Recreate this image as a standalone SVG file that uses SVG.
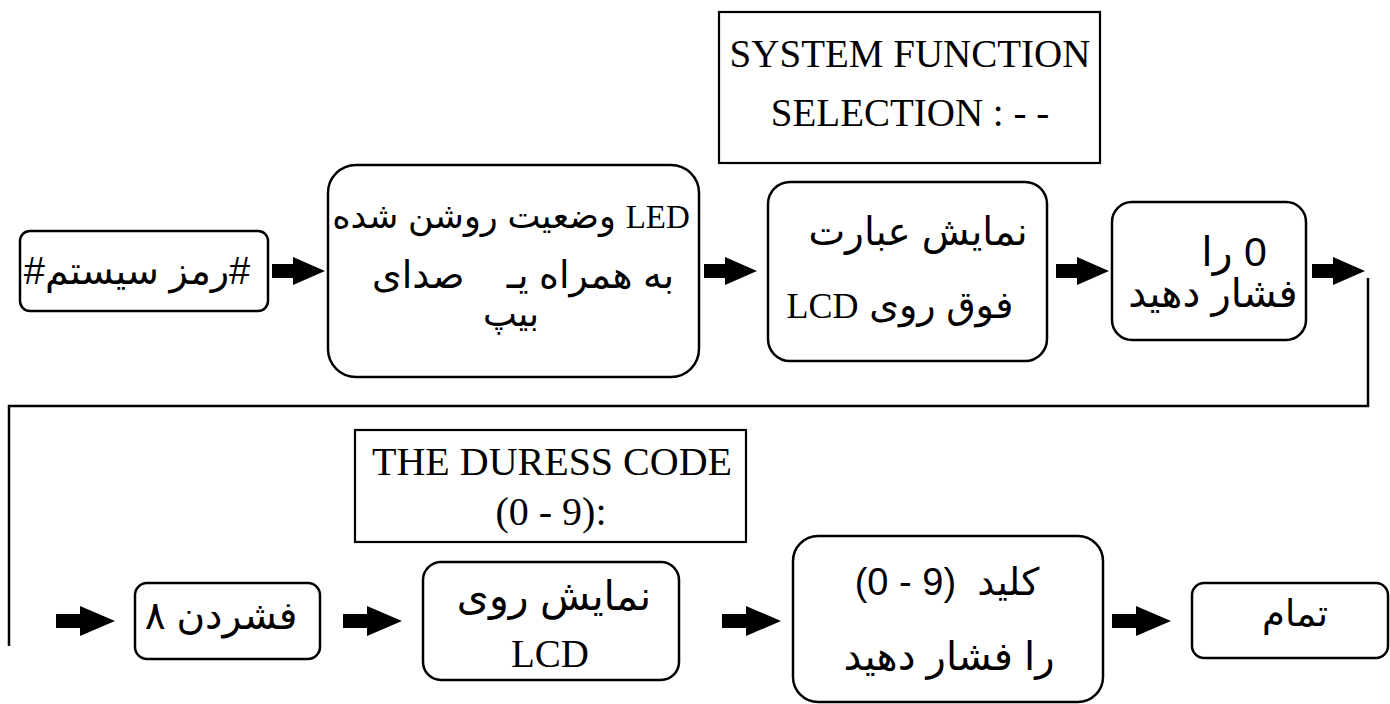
<svg xmlns="http://www.w3.org/2000/svg" width="1390" height="704" viewBox="0 0 1390 704">
<style>
.box{fill:#fff;stroke:#000;stroke-width:2.5}
.rect{fill:#fff;stroke:#000;stroke-width:2.2}
.ar{font-family:"Liberation Sans","DejaVu Sans",sans-serif;fill:#000}
.en{font-family:"Liberation Serif","DejaVu Serif",serif;fill:#000}
.line{fill:none;stroke:#000;stroke-width:2.5}
.arrow{fill:#000}
</style>
<defs>
<path id="a1" d="M0,-7 H21 V-14 L53,0 L21,14 V7 H0 Z"/>
<path id="a2" d="M0,-7 H24 V-15 L59,0 L24,15 V7 H0 Z"/>
</defs>
<rect width="1390" height="704" fill="#fff"/>

<g id="connectors">
<use href="#a1" class="arrow" x="272" y="271"/>
<use href="#a1" class="arrow" x="704" y="271"/>
<use href="#a1" class="arrow" x="1056" y="271"/>
<use href="#a1" class="arrow" x="1312" y="271"/>
<polyline class="line" points="1368,278 1368,406 9,406 9,646"/>
<use href="#a2" class="arrow" x="56" y="621"/>
<use href="#a2" class="arrow" x="343" y="621"/>
<use href="#a2" class="arrow" x="722" y="621"/>
<use href="#a2" class="arrow" x="1112" y="621"/>
</g>

<g id="node-password">
<rect class="box" x="20" y="231" width="248" height="80" rx="10"/>
<text class="ar" x="137" y="284" font-size="38" text-anchor="middle" direction="rtl">#رمز سیستم#</text>
</g>

<g id="node-led">
<rect class="box" x="328" y="165" width="371" height="212" rx="28"/>
<text class="ar" x="511" y="228" font-size="35" text-anchor="middle" direction="rtl"><tspan class="en" font-size="33">LED</tspan> وضعیت روشن شده</text>
<text class="ar" x="523" y="288" font-size="38" text-anchor="middle" direction="rtl" xml:space="preserve">به همراه یـ    صدای</text>
<text class="ar" x="511" y="326" font-size="36" text-anchor="middle" direction="rtl">بیپ</text>
</g>

<g id="lcd-system-function">
<rect class="rect" x="719" y="12" width="381" height="151"/>
<text class="en" x="910" y="67" font-size="39" text-anchor="middle">SYSTEM FUNCTION</text>
<text class="en" x="910" y="126" font-size="39" text-anchor="middle">SELECTION : - -</text>
</g>

<g id="node-show-phrase">
<rect class="box" x="768" y="182" width="279" height="179" rx="22"/>
<text class="ar" x="918" y="245" font-size="39" text-anchor="middle" direction="rtl">نمایش عبارت</text>
<text class="ar" x="900" y="318" font-size="38" text-anchor="middle" direction="rtl">فوق روی <tspan class="en" font-size="36">LCD</tspan></text>
</g>

<g id="node-press-0">
<rect class="box" x="1112" y="202" width="194" height="138" rx="20"/>
<text class="ar" x="1234" y="266" font-size="41" text-anchor="middle" direction="rtl">0 را</text>
<text class="ar" x="1213" y="307" font-size="40" text-anchor="middle" direction="rtl">فشار دهید</text>
</g>

<g id="lcd-duress">
<rect class="rect" x="355" y="430" width="391" height="112"/>
<text class="en" x="552" y="475" font-size="40" text-anchor="middle">THE DURESS CODE</text>
<text class="en" x="551" y="525" font-size="40" text-anchor="middle">(0 - 9):</text>
</g>

<g id="node-press-8">
<rect class="box" x="135" y="583" width="185" height="76" rx="12"/>
<text class="ar" x="221" y="629" font-size="39" text-anchor="middle" direction="rtl">فشردن ۸</text>
</g>

<g id="node-show-lcd">
<rect class="box" x="423" y="562" width="256" height="118" rx="18"/>
<text class="ar" x="554" y="610" font-size="41" text-anchor="middle" direction="rtl">نمایش روی</text>
<text class="en" x="550" y="667" font-size="39" text-anchor="middle">LCD</text>
</g>

<g id="node-press-key">
<rect class="box" x="793" y="536" width="310" height="166" rx="25"/>
<text class="ar" x="947" y="595" font-size="38" text-anchor="middle" direction="rtl" xml:space="preserve">کلید  (9 - 0)</text>
<text class="ar" x="949" y="670" font-size="40" text-anchor="middle" direction="rtl">را فشار دهید</text>
</g>

<g id="node-done">
<rect class="box" x="1192" y="583" width="196" height="75" rx="12"/>
<text class="ar" x="1295" y="626" font-size="37" text-anchor="middle" direction="rtl">تمام</text>
</g>
</svg>
